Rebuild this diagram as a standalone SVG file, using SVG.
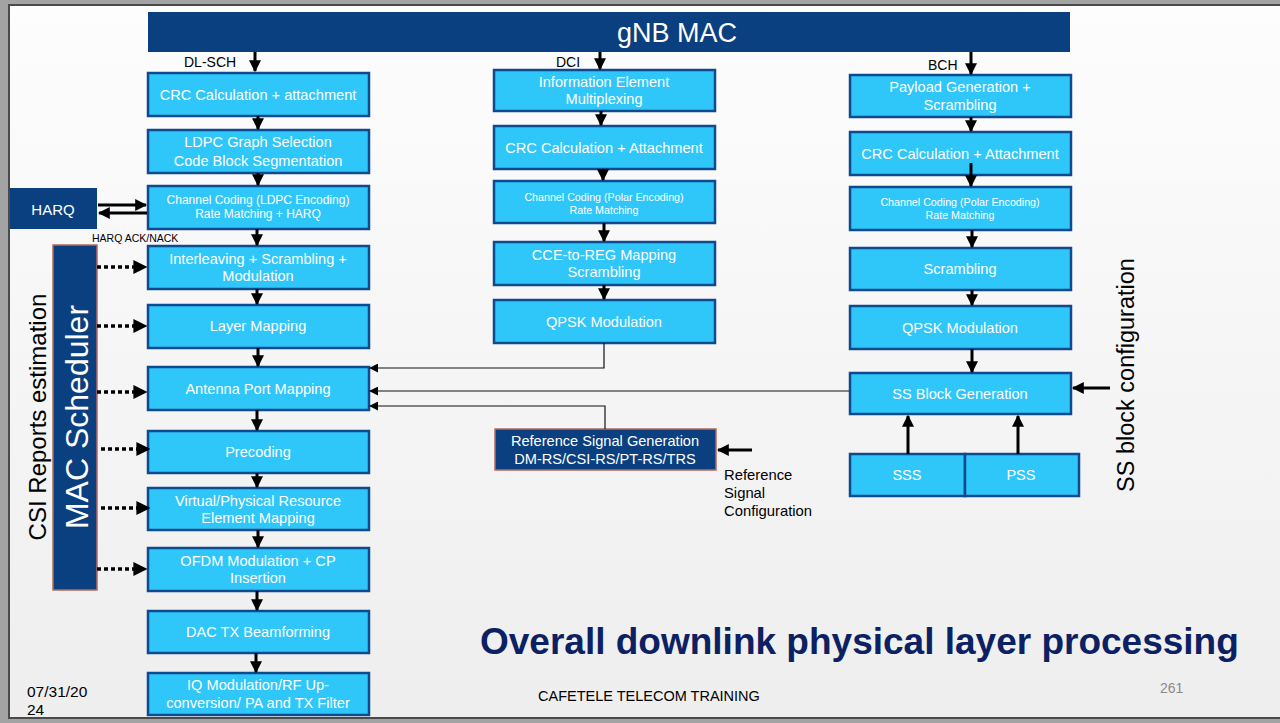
<svg xmlns="http://www.w3.org/2000/svg" width="1280" height="723" viewBox="0 0 1280 723">
  <defs>
    <linearGradient id="slideBg" x1="0" y1="0" x2="0" y2="1">
      <stop offset="0" stop-color="#fdfdfd"/>
      <stop offset="1" stop-color="#eeeeee"/>
    </linearGradient>
    <marker id="headBig" viewBox="0 0 10 10" refX="9" refY="5" markerWidth="4" markerHeight="4" markerUnits="strokeWidth" orient="auto">
      <path d="M0,0 L10,5 L0,10 z" fill="#000"/>
    </marker>
    <marker id="headSmall" viewBox="0 0 10 10" refX="9" refY="5" markerWidth="9" markerHeight="9" markerUnits="userSpaceOnUse" orient="auto">
      <path d="M0,0 L10,5 L0,10 z" fill="#000"/>
    </marker>
    <style>
      .box { fill: #2fc6f9; stroke: #0d4a8e; stroke-width: 2.5; }
      .dark { fill: #0a3f80; stroke: #b56a5e; stroke-width: 1.5; }
      .lbl { font-family: "Liberation Sans", Arial, sans-serif; fill: #ffffff; text-anchor: middle; }
      .t14 { font-size: 14.6px; }
      .t11 { font-size: 12px; }
      .t10 { font-size: 10.7px; }
      .blk { font-family: "Liberation Sans", Arial, sans-serif; fill: #000000; }
      .flow { stroke: #000; stroke-width: 3; fill: none; marker-end: url(#headBig); }
      .dots { stroke: #000; stroke-width: 3.5; stroke-dasharray: 4 3; fill: none; marker-end: url(#headBig); }
      .thin { stroke: #111; stroke-width: 1.2; fill: none; marker-end: url(#headSmall); }
    </style>
  </defs>

  <!-- slide frame -->
  <rect x="0" y="0" width="1280" height="723" fill="#a3a3a3"/>
  <rect x="8" y="4" width="1272" height="715" fill="#4a4a4a"/>
  <rect x="10" y="6" width="1270" height="711" fill="url(#slideBg)"/>

  <!-- header bar -->
  <g id="gnb-mac">
    <rect x="148" y="12" width="922" height="40" fill="#0a3f80"/>
    <text x="677" y="42" class="lbl" font-size="27">gNB MAC</text>
  </g>

  <!-- channel labels -->
  <g id="channel-labels" class="blk" font-size="14">
    <text x="184" y="67">DL-SCH</text>
    <text x="556" y="67">DCI</text>
    <text x="928" y="70">BCH</text>
  </g>

  <!-- DL-SCH chain -->
  <g id="crc-dl"><rect class="box" x="148" y="73" width="221" height="43"/><text class="lbl t14" x="258" y="100">CRC Calculation + attachment</text></g>
  <g id="ldpc-seg"><rect class="box" x="148" y="130" width="221" height="43"/><text class="lbl t14" x="258" y="147">LDPC Graph Selection</text><text class="lbl t14" x="258" y="166">Code Block Segmentation</text></g>
  <g id="ldpc-enc"><rect class="box" x="148" y="186" width="221" height="43"/><text class="lbl t11" x="258" y="204">Channel Coding (LDPC Encoding)</text><text class="lbl t11" x="258" y="218">Rate Matching + HARQ</text></g>
  <g id="interleave"><rect class="box" x="148" y="246" width="221" height="43"/><text class="lbl t14" x="258" y="264">Interleaving + Scrambling +</text><text class="lbl t14" x="258" y="281">Modulation</text></g>
  <g id="layer-map"><rect class="box" x="148" y="305" width="221" height="43"/><text class="lbl t14" x="258" y="331">Layer Mapping</text></g>
  <g id="antenna-port"><rect class="box" x="148" y="367" width="221" height="43"/><text class="lbl t14" x="258" y="394">Antenna Port Mapping</text></g>
  <g id="precoding"><rect class="box" x="148" y="431" width="221" height="42"/><text class="lbl t14" x="258" y="457">Precoding</text></g>
  <g id="re-mapping"><rect class="box" x="148" y="488" width="221" height="42"/><text class="lbl t14" x="258" y="506">Virtual/Physical Resource</text><text class="lbl t14" x="258" y="523">Element Mapping</text></g>
  <g id="ofdm"><rect class="box" x="148" y="548" width="221" height="43"/><text class="lbl t14" x="258" y="566">OFDM Modulation + CP</text><text class="lbl t14" x="258" y="583">Insertion</text></g>
  <g id="dac"><rect class="box" x="148" y="611" width="221" height="42"/><text class="lbl t14" x="258" y="637">DAC TX Beamforming</text></g>
  <g id="iq-rf"><rect class="box" x="148" y="673" width="221" height="42"/><text class="lbl t14" x="258" y="690">IQ Modulation/RF Up-</text><text class="lbl t14" x="258" y="708">conversion/ PA and TX Filter</text></g>

  <!-- HARQ and scheduler -->
  <g id="harq"><rect x="10" y="188" width="87" height="41" fill="#0a3f80"/><text class="lbl" font-size="15" x="53" y="215">HARQ</text></g>
  <g id="mac-scheduler"><rect class="dark" x="53" y="245" width="44" height="345"/><text class="lbl" font-size="32" transform="translate(88 417) rotate(-90)">MAC Scheduler</text></g>
  <text class="blk" font-size="10.5" x="92" y="242">HARQ ACK/NACK</text>
  <text class="blk" font-size="24" text-anchor="middle" transform="translate(46 417) rotate(-90)">CSI Reports estimation</text>

  <!-- DCI chain -->
  <g id="ie-mux"><rect class="box" x="494" y="70" width="221" height="41"/><text class="lbl t14" x="604" y="87">Information Element</text><text class="lbl t14" x="604" y="104">Multiplexing</text></g>
  <g id="crc-dci"><rect class="box" x="494" y="126" width="221" height="43"/><text class="lbl t14" x="604" y="153">CRC Calculation + Attachment</text></g>
  <g id="polar-dci"><rect class="box" x="494" y="181" width="221" height="42"/><text class="lbl t10" x="604" y="201">Channel Coding (Polar Encoding)</text><text class="lbl t10" x="604" y="214">Rate Matching</text></g>
  <g id="cce-reg"><rect class="box" x="494" y="242" width="221" height="43"/><text class="lbl t14" x="604" y="260">CCE-to-REG Mapping</text><text class="lbl t14" x="604" y="277">Scrambling</text></g>
  <g id="qpsk-dci"><rect class="box" x="494" y="300" width="221" height="43"/><text class="lbl t14" x="604" y="327">QPSK Modulation</text></g>

  <!-- reference signals -->
  <g id="ref-signal"><rect class="dark" x="495" y="429" width="221" height="41"/><text class="lbl t14" x="605" y="446">Reference Signal Generation</text><text class="lbl t14" x="605" y="464">DM-RS/CSI-RS/PT-RS/TRS</text></g>
  <g id="ref-config-label" class="blk" font-size="14.8">
    <text x="724" y="480">Reference</text>
    <text x="724" y="498">Signal</text>
    <text x="724" y="516">Configuration</text>
  </g>

  <!-- BCH chain -->
  <g id="payload"><rect class="box" x="850" y="75" width="221" height="42"/><text class="lbl t14" x="960" y="92">Payload Generation +</text><text class="lbl t14" x="960" y="110">Scrambling</text></g>
  <g id="crc-bch"><rect class="box" x="850" y="132" width="221" height="43"/><text class="lbl t14" x="960" y="159">CRC Calculation + Attachment</text></g>
  <g id="polar-bch"><rect class="box" x="850" y="187" width="221" height="43"/><text class="lbl t10" x="960" y="206">Channel Coding (Polar Encoding)</text><text class="lbl t10" x="960" y="219">Rate Matching</text></g>
  <g id="scrambling-bch"><rect class="box" x="850" y="248" width="221" height="42"/><text class="lbl t14" x="960" y="274">Scrambling</text></g>
  <g id="qpsk-bch"><rect class="box" x="850" y="306" width="221" height="43"/><text class="lbl t14" x="960" y="333">QPSK Modulation</text></g>
  <g id="ssb-gen"><rect class="box" x="850" y="373" width="221" height="41"/><text class="lbl t14" x="960" y="399">SS Block Generation</text></g>
  <g id="sss"><rect class="box" x="850" y="454" width="115" height="42"/><text class="lbl t14" x="907" y="480">SSS</text></g>
  <g id="pss"><rect class="box" x="965" y="454" width="114" height="42"/><text class="lbl t14" x="1021" y="480">PSS</text></g>
  <text class="blk" font-size="23.5" text-anchor="middle" transform="translate(1134 375) rotate(-90)">SS block configuration</text>

  <!-- connectors -->
  <g id="connectors">
    <!-- DL-SCH -->
    <path class="flow" d="M255,52 V71"/>
    <path class="flow" d="M258,116 V129"/>
    <path class="flow" d="M258,173 V185"/>
    <path class="flow" d="M257,229 V245"/>
    <path class="flow" d="M257,289 V304"/>
    <path class="flow" d="M258,348 V366"/>
    <path class="flow" d="M257,410 V430"/>
    <path class="flow" d="M257,473 V487"/>
    <path class="flow" d="M258,530 V547"/>
    <path class="flow" d="M257,591 V610"/>
    <path class="flow" d="M256,653 V672"/>
    <!-- HARQ exchange -->
    <path class="flow" d="M98,205 H146"/>
    <path class="flow" d="M147,213 H99"/>
    <!-- scheduler control -->
    <path class="dots" d="M97,267 H146"/>
    <path class="dots" d="M97,326 H146"/>
    <path class="dots" d="M97,392 H146"/>
    <path class="dots" d="M101,449 H149"/>
    <path class="dots" d="M101,508 H149"/>
    <path class="dots" d="M97,569 H146"/>
    <!-- DCI -->
    <path class="flow" d="M600,52 V69"/>
    <path class="flow" d="M601,111 V125"/>
    <path class="flow" d="M603,169 V180"/>
    <path class="flow" d="M604,223 V241"/>
    <path class="flow" d="M604,285 V299"/>
    <!-- BCH -->
    <path class="flow" d="M971,52 V74"/>
    <path class="flow" d="M971,117 V131"/>
    <path class="flow" d="M971,163 V186"/>
    <path class="flow" d="M972,230 V247"/>
    <path class="flow" d="M972,290 V305"/>
    <path class="flow" d="M972,349 V372"/>
    <path class="flow" d="M908,454 V416"/>
    <path class="flow" d="M1018,454 V416"/>
    <path class="flow" d="M1110,388 H1073"/>
    <!-- into antenna port mapping -->
    <path class="thin" d="M604,343 V368 H370"/>
    <path class="thin" d="M849,391 H370" stroke="#777"/>
    <path class="thin" d="M605,429 V406 H370"/>
    <!-- reference signal configuration -->
    <path class="flow" d="M752,450 H718"/>
  </g>

  <!-- footer -->
  <g id="footer">
    <text x="480" y="654" font-family="Liberation Sans, Arial, sans-serif" font-weight="bold" font-size="37" fill="#0b2163">Overall downlink physical layer processing</text>
    <text class="blk" x="538" y="701" font-size="14.5">CAFETELE TELECOM TRAINING</text>
    <text x="1160" y="693" font-family="Liberation Sans, Arial, sans-serif" font-size="14" fill="#8a8a8a">261</text>
    <text class="blk" x="27" y="697" font-size="15.5">07/31/20</text>
    <text class="blk" x="27" y="715" font-size="15.5">24</text>
  </g>
</svg>
